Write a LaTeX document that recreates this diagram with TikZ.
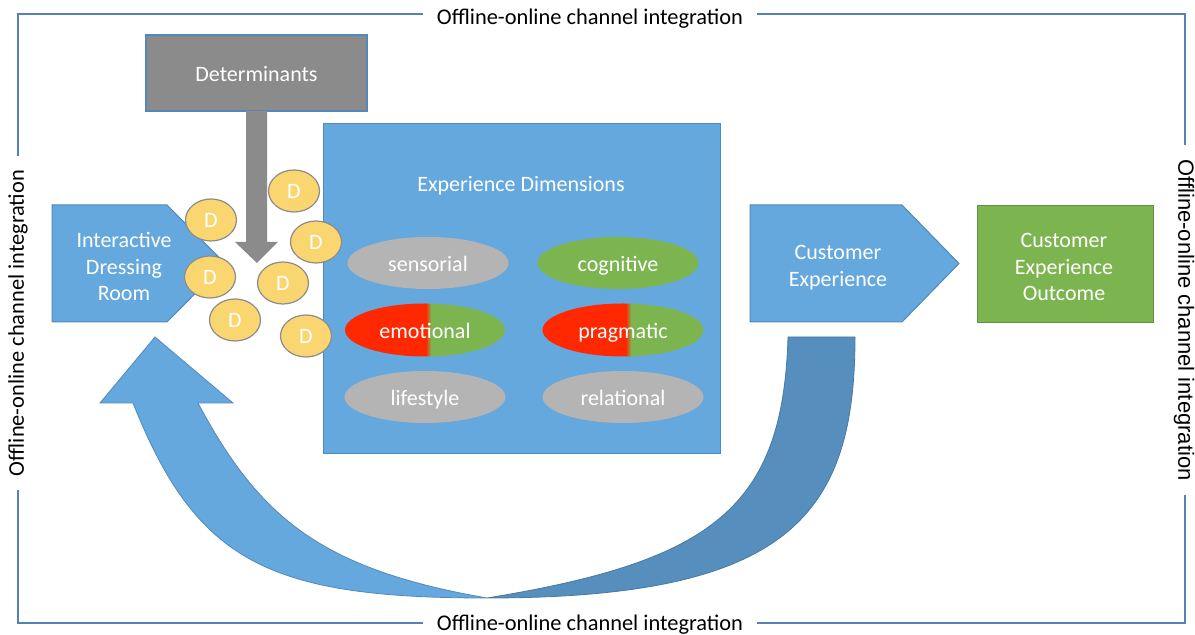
\documentclass[tikz,border=0pt]{standalone}
\usepackage{fontspec}
\setmainfont{Carlito}
\newfontfamily\arialf{Liberation Sans}
\usetikzlibrary{shapes.geometric}
\definecolor{frameblue}{RGB}{84,130,180}
\definecolor{boxblue}{RGB}{101,168,221}
\definecolor{edgeblue}{RGB}{82,136,190}
\definecolor{darkblue}{RGB}{86,142,190}
\definecolor{detgray}{RGB}{139,139,139}
\definecolor{ellgray}{RGB}{180,180,180}
\definecolor{okgreen}{RGB}{124,181,80}
\definecolor{hotred}{RGB}{255,40,0}
\definecolor{dyellow}{RGB}{250,214,112}
\definecolor{dborder}{RGB}{140,140,140}
\begin{document}
\begin{tikzpicture}[x=0.5pt,y=-0.5pt,
  every node/.style={font=\fontsize{11}{13.3}\selectfont, inner sep=0pt},
  lbl/.style={fill=white, inner xsep=7pt, inner ysep=2pt, text=black, font=\fontsize{11.2}{13.3}\selectfont},
  oneline/.style={text height=11pt, text depth=2pt},
  dimell/.style={ellipse, minimum width=80.5pt, minimum height=26pt, text=white, oneline},
  dcirc/.style={ellipse, minimum width=25.5pt, minimum height=21pt, fill=dyellow, draw=dborder, line width=0.6pt, text=white},
  wtext/.style={text=white, align=center},
  shapeedge/.style={draw=edgeblue, line width=0.5pt}]
\useasboundingbox (0,0) rectangle (1195,635);
% frame
\draw[frameblue, line width=1.4pt] (18,14) rectangle (1185,623);
\node[lbl] (ltop) at (590,18.5) {Offline-online channel integration};
\node[lbl] (lbot) at (590,624.5) {Offline-online channel integration};
\node[lbl, rotate=90] (lleft) at (18,323) {Offline-online channel integration};
\node[lbl, rotate=-90, font=\arialf\fontsize{11}{13}\selectfont] (lright) at (1184,320) {Offline-online channel integration};
% experience dimensions
\node[rectangle, fill=boxblue, shapeedge, minimum width=198.5pt, minimum height=165pt] (expbox) at (521.5,289) {};
\node[wtext, anchor=base] (exptitle) at (521,191.5) {Experience Dimensions};
\node[dimell, fill=ellgray] (sens) at (428,263) {sensorial};
\node[dimell, fill=okgreen] (cogn) at (618,263) {cognitive};
\node[dimell, fill=ellgray] (life) at (425,397) {lifestyle};
\node[dimell, fill=ellgray] (rela) at (623,397) {relational};
\begin{scope}
  \clip (425,330) ellipse [x radius=80, y radius=26.5];
  \fill[hotred] (340,300) rectangle (426,360);
  \shade[left color=hotred, right color=okgreen] (426,300) rectangle (431,360);
  \fill[okgreen] (431,300) rectangle (510,360);
\end{scope}
\node[text=white, oneline] (emo) at (425,330) {emotional};
\begin{scope}
  \clip (623,330) ellipse [x radius=80.5, y radius=26.5];
  \fill[hotred] (540,300) rectangle (626,360);
  \shade[left color=hotred, right color=okgreen] (626,300) rectangle (631,360);
  \fill[okgreen] (631,300) rectangle (710,360);
\end{scope}
\node[text=white, oneline] (prag) at (623,330) {pragmatic};
% pentagons and outcome
\fill[boxblue, shapeedge] (52,205) -- (167,205) -- (225,263.5) -- (167,322) -- (52,322) -- cycle;
\node[wtext] (idr) at (124,266.5) {Interactive\\Dressing\\Room};
\fill[boxblue, shapeedge] (750,205) -- (902,205) -- (959,263.5) -- (902,322) -- (750,322) -- cycle;
\node[wtext] (cx) at (838,267.5) {Customer\\Experience};
\node[rectangle, fill=okgreen, draw=okgreen!80!black, line width=0.4pt, minimum width=88pt, minimum height=58.5pt] (cxo) at (1065,263.5) {};
\node[wtext] (cxotext) at (1064,267) {Customer\\Experience\\Outcome};
% determinants
\node[rectangle, fill=detgray, draw=edgeblue, line width=0.6pt, minimum width=110.5pt, minimum height=38pt, text=white, oneline] (det) at (256.5,73) {Determinants};
\fill[detgray] (246,111) -- (267,111) -- (267,242) -- (278,242) -- (257,263) -- (235,242) -- (246,242) -- cycle;
% D circles
\node[dcirc] (d1) at (294,191) {D};
\node[dcirc] (d2) at (211,220) {D};
\node[dcirc] (d3) at (316,242) {D};
\node[dcirc] (d4) at (210,277) {D};
\node[dcirc] (d5) at (283,283) {D};
\node[dcirc] (d6) at (235,320) {D};
\node[dcirc] (d7) at (306,336) {D};
% curved arrow
\filldraw[fill=darkblue, draw=darkblue!85!black, line width=0.4pt]
  (487,598) .. controls (787,598) and (855,517) .. (855,337) -- (788,337)
  .. controls (783,507) and (714,561) .. (487,598) -- cycle;
\filldraw[fill=boxblue, draw=edgeblue, line width=0.4pt]
  (487,598) .. controls (267,598) and (196,561) .. (133,403) -- (100,403) -- (155,337)
  -- (233,403) -- (198,403) .. controls (259,517) and (320,569) .. (487,598) -- cycle;
\end{tikzpicture}
\end{document}
